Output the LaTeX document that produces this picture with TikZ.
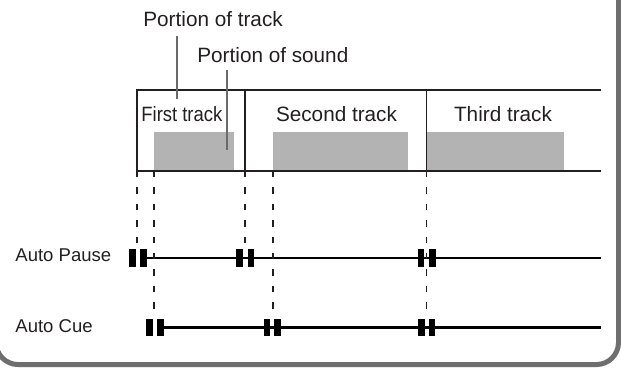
\documentclass[tikz,border=0pt]{standalone}
\usepackage{fontspec}
\setmainfont{Liberation Sans}
\usepackage{tikz}
\usetikzlibrary{positioning,calc}
\definecolor{ink}{HTML}{231F20}
\definecolor{frame}{HTML}{6E6E6E}
\definecolor{leadgray}{HTML}{6A6A6A}
\definecolor{soundgray}{HTML}{B3B3B3}

\begin{document}
\begin{tikzpicture}[
  x=0.5bp,y=-0.5bp,
  every node/.style={font=\fontsize{10.4}{12}\selectfont,text=ink,inner sep=0pt},
  small/.style={font=\fontsize{9.3}{11}\selectfont},
  caption/.style={anchor=base west},
  track/.style={anchor=base},
  sound/.style={fill=soundgray,draw=none},
  leader/.style={line width=1.1bp,color=leadgray},
  edge/.style={line width=0.7bp,color=ink},
  guide/.style={line width=0.55bp,color=ink,dash pattern=on 3.2bp off 5bp},
  timeline/.style={line width=1.1bp,color=black},
  bar/.style={fill=black,minimum width=3.25bp,minimum height=8.7bp,inner sep=0pt}
]
\useasboundingbox (0,0) rectangle (621,367);
\draw[frame,line width=2.5bp,rounded corners=11bp] (-4,-40) rectangle (618.5,364.5);

% tracks and sound portions
\fill[sound] (154,132) rectangle (234,171);
\fill[sound] (273,132) rectangle (408,171);
\fill[sound] (427,132) rectangle (564,171);
\draw[edge] (601,90) -- (137,90) -- (137,171) -- (601,171);
\draw[edge] (245,90) -- (245,171);
\draw[edge] (426.5,90) -- (426.5,171);
\node[track,anchor=base west] (first) at (141,121) {\scalebox{0.89}[1]{First track}};
\node[track] (second) at (336.5,121) {Second track};
\node[track] (third) at (503,121) {Third track};

% captions with leaders
\node[caption] (ptrack) at (143,26) {Portion of track};
\node[caption] (psound) at (197,62) {Portion of sound};
\coordinate (trackpt) at (177,99);
\coordinate (soundpt) at (227,150);
\draw[leader] (trackpt) -- (trackpt |- 0,36);
\draw[leader] (soundpt) -- (soundpt |- 0,70);

% track and sound starts
\coordinate (t1) at (137,171);
\coordinate (t2) at (245,171);
\coordinate (t3) at (426.5,171);
\coordinate (s1) at (154,171);
\coordinate (s2) at (273,171);

\node[caption,small] (pause) at (15,261.7) {Auto Pause};
\node[caption,small] (cue) at (15,332.7) {Auto Cue};

\foreach \n/\x in {p1/138,p2/245.3,p3/426.8} {
  \node[bar] (\n a) at (\x-5.6,258) {};
  \node[bar] (\n b) at (\x+5.6,258) {};
}
\foreach \n/\x in {c1/155,c2/272.3,c3/426.8} {
  \node[bar] (\n a) at (\x-5.3,327.5) {};
  \node[bar] (\n b) at (\x+5.3,327.5) {};
}
\coordinate (pend) at (601,258);
\coordinate (cend) at (601,327.5);
\draw[timeline] (p1b.center) -- (pend);
\draw[timeline] (c1b.center) -- (cend);

\draw[guide] (t1) -- (t1 |- p1a.north);
\draw[guide] (t2) -- (t2 |- p2a.north);
\draw[guide] (s1) -- (s1 |- c1a.north);
\draw[guide] (s2) -- (s2 |- c2a.north);
\draw[guide] (t3) -- (t3 |- c3a.north);
\end{tikzpicture}
\end{document}
